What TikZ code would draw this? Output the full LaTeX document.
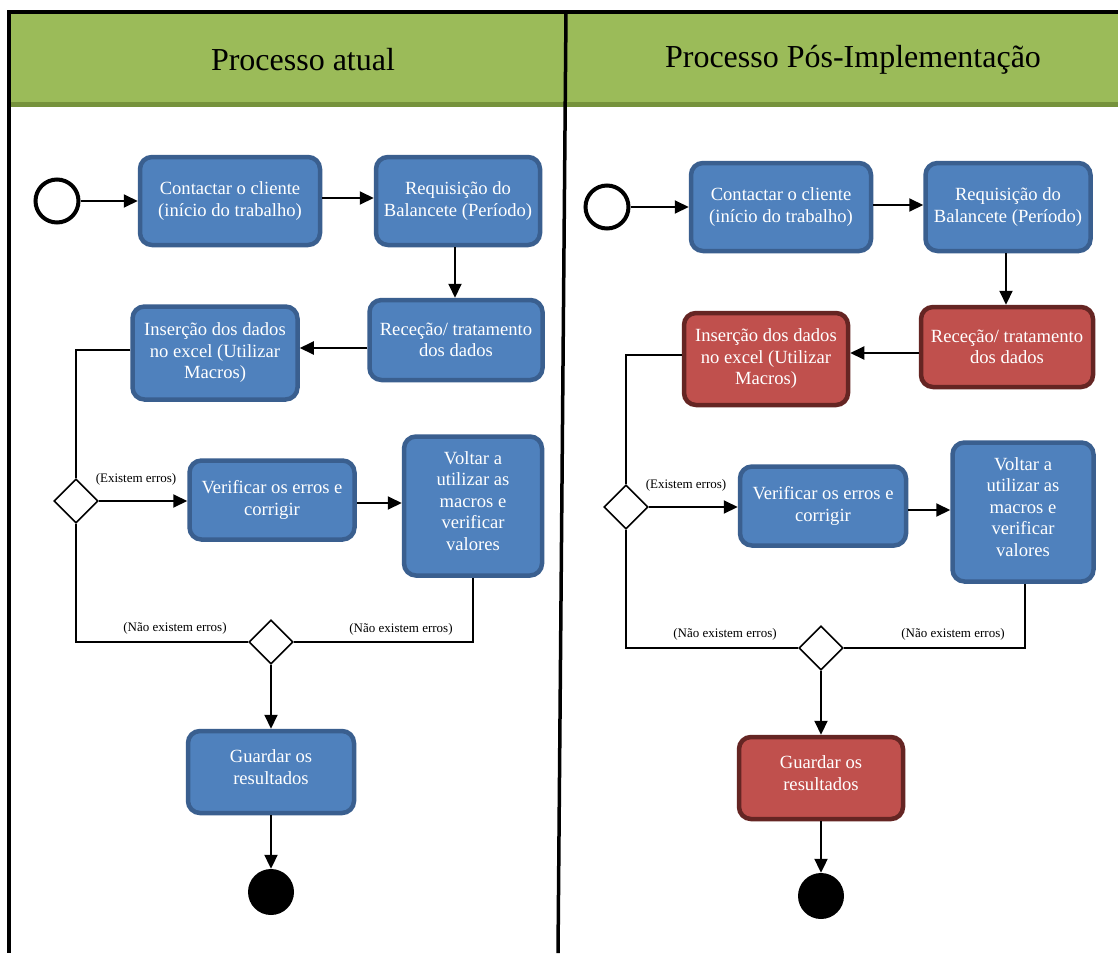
\documentclass[tikz,border=0pt]{standalone}
\usepackage{fontspec}
\setmainfont{Liberation Serif}
\usetikzlibrary{arrows.meta,shapes.geometric,calc}
\definecolor{hdrgreen}{HTML}{9BBB59}
\definecolor{hdrdark}{HTML}{76923C}
\definecolor{bluefill}{HTML}{4F81BD}
\definecolor{blueline}{HTML}{3A5F8F}
\definecolor{redfill}{HTML}{C0504D}
\definecolor{redline}{HTML}{652523}
\begin{document}
\begin{tikzpicture}[x=1pt,y=-1pt,
 box/.style={rectangle,rounded corners=12pt,line width=4.5pt,text=white,align=center,font=\fontsize{18.6}{21.5}\selectfont,inner sep=2pt},
 bluebox/.style={box,fill=bluefill,draw=blueline},
 redbox/.style={box,fill=redfill,draw=redline},
 startnode/.style={circle,draw=black,line width=4pt,fill=white,minimum size=43pt,inner sep=0pt},
 endnode/.style={circle,fill=black,minimum size=46pt,inner sep=0pt},
 decision/.style={diamond,draw=black,line width=1.6pt,fill=white,minimum width=44pt,minimum height=44pt,inner sep=0pt},
 flow/.style={line width=2pt,draw=black},
 arr/.style={flow,-{Triangle[length=14pt,width=13pt]}},
 cond/.style={font=\fontsize{13}{15}\selectfont,inner sep=0pt},
 title/.style={font=\fontsize{32}{36}\selectfont}
]
\useasboundingbox (0,0) rectangle (1118,953);
\fill[white] (0,0) rectangle (1118,953);
\fill[hdrgreen] (9,12) rectangle (1118,104);
\fill[hdrdark] (9,102) rectangle (1118,107);
\draw[line width=4pt] (7,12) -- (1118,12);
\draw[line width=4pt] (9,10) -- (9,953);
\draw[line width=3.5pt] (566,12) -- (558,953);
\node[title] (t1) at (303,60) {Processo atual};
\node[title] (t2) at (853,60) {Processo Pós-Implementação};

% ---------- left lane ----------
\node[startnode] (s1) at (57,201) {};
\node[bluebox,minimum width=180pt,minimum height=88pt] (a1) at (230,201) {Contactar o cliente\\(início do trabalho)};
\node[bluebox,minimum width=164pt,minimum height=88pt] (b1) at (458,201) {Requisição do\\Balancete (Período)};
\node[bluebox,minimum width=173pt,minimum height=80pt] (c1) at (456,340) {Receção/ tratamento\\dos dados};
\node[bluebox,minimum width=165pt,minimum height=93pt] (d1) at (215,353) {Inserção dos dados\\no excel (Utilizar\\Macros)};
\node[decision] (q1) at (76,501) {};
\node[bluebox,minimum width=165pt,minimum height=79pt] (e1) at (272,500) {Verificar os erros e\\corrigir};
\node[bluebox,minimum width=138pt,minimum height=139pt,text depth=10pt] (f1) at (473,506) {Voltar a\\utilizar as\\macros e\\verificar\\valores};
\node[decision] (q2) at (271,642) {};
\node[bluebox,minimum width=166pt,minimum height=82pt,text depth=10pt] (g1) at (271,772) {Guardar os\\resultados};
\node[endnode] (z1) at (271,892) {};

\node[cond] (l1) at (136,479) {(Existem erros)};
\node[cond] (l2) at (175,628) {(Não existem erros)};
\node[cond] (l3) at (401,629) {(Não existem erros)};

\draw[arr] (s1) -- (a1);
\draw[arr] ([yshift=3pt]a1.east) -- ([yshift=3pt]a1.east -| b1.west);
\draw[arr] ([xshift=-3pt]b1.south) -- ([xshift=-3pt]b1.south |- c1.north);
\draw[arr] ([yshift=-8pt]c1.west) -- ([yshift=-8pt]c1.west -| d1.east);
\draw[flow] ([yshift=3pt]d1.west) -| (q1.north);
\draw[arr] (q1.east) -- (q1.east -| e1.west);
\draw[arr] ([yshift=-3pt]e1.east) -- ([yshift=-3pt]e1.east -| f1.west);
\draw[flow] (f1.south) |- (q2.east);
\draw[flow] (q1.south) |- (q2.west);
\draw[arr] (q2.south) -- (q2.south |- g1.north);
\draw[arr] (g1.south) -- (g1.south |- z1.north);

% ---------- right lane ----------
\node[startnode] (s2) at (607,207) {};
\node[bluebox,minimum width=180pt,minimum height=88pt] (a2) at (781,207) {Contactar o cliente\\(início do trabalho)};
\node[bluebox,minimum width=165pt,minimum height=88pt] (b2) at (1008,207) {Requisição do\\Balancete (Período)};
\node[redbox,minimum width=172pt,minimum height=80pt] (c2) at (1007,347) {Receção/ tratamento\\dos dados};
\node[redbox,minimum width=164pt,minimum height=92pt] (d2) at (766,359) {Inserção dos dados\\no excel (Utilizar\\Macros)};
\node[decision] (q3) at (626,507) {};
\node[bluebox,minimum width=166pt,minimum height=79pt] (e2) at (823,506) {Verificar os erros e\\corrigir};
\node[bluebox,minimum width=141pt,minimum height=139pt,text depth=10pt] (f2) at (1023,512) {Voltar a\\utilizar as\\macros e\\verificar\\valores};
\node[decision] (q4) at (821,648) {};
\node[redbox,minimum width=164pt,minimum height=82pt,text depth=10pt] (g2) at (821,778) {Guardar os\\resultados};
\node[endnode] (z2) at (821,896) {};

\node[cond] (l4) at (686,485) {(Existem erros)};
\node[cond] (l5) at (725,634) {(Não existem erros)};
\node[cond] (l6) at (953,634) {(Não existem erros)};

\draw[arr] (s2) -- (a2);
\draw[arr] ([yshift=2pt]a2.east) -- ([yshift=2pt]a2.east -| b2.west);
\draw[arr] ([xshift=-2pt]b2.south) -- ([xshift=-2pt]b2.south |- c2.north);
\draw[arr] ([yshift=-6pt]c2.west) -- ([yshift=-6pt]c2.west -| d2.east);
\draw[flow] ([yshift=4pt]d2.west) -| (q3.north);
\draw[arr] (q3.east) -- (q3.east -| e2.west);
\draw[arr] ([yshift=-4pt]e2.east) -- ([yshift=-4pt]e2.east -| f2.west);
\draw[flow] ([xshift=2pt]f2.south) |- (q4.east);
\draw[flow] (q3.south) |- (q4.west);
\draw[arr] (q4.south) -- (q4.south |- g2.north);
\draw[arr] (g2.south) -- (g2.south |- z2.north);
\end{tikzpicture}
\end{document}
